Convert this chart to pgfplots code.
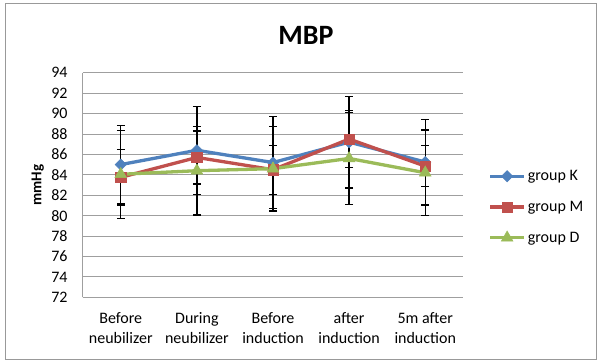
\documentclass[border=0pt]{standalone}
\usepackage{fontspec}
\setmainfont{Carlito}
\usepackage{pgfplots}
\usepackage{pgfplotstable}
\pgfplotsset{compat=1.18}
\definecolor{cK}{HTML}{4F81BD}
\definecolor{cM}{HTML}{C0504D}
\definecolor{cD}{HTML}{9BBB59}
\pgfplotstableread{
x y e
0 85.00 3.8
1 86.40 4.3
2 85.20 4.5
3 87.20 4.5
4 85.25 4.2
}\dataK
\pgfplotstableread{
x y e
0 83.75 2.7
1 85.70 2.6
2 84.50 2.4
3 87.50 2.8
4 84.85 2.0
}\dataM
\pgfplotstableread{
x y e
0 84.05 4.3
1 84.40 4.35
2 84.60 4.15
3 85.60 4.5
4 84.20 4.2
}\dataD
\pgfplotsset{
  eb/.style={error bars/.cd, y dir=both, y explicit,
    error bar style={black, line width=1.3pt, solid},
    error mark options={rotate=90, black, mark size=4pt, line width=1.3pt, solid}},
}
\begin{document}
\begin{tikzpicture}
\useasboundingbox (0pt,0pt) rectangle (600pt,362pt);
\fill[white] (0pt,0pt) rectangle (600pt,362pt);
\draw[gray!80, line width=0.9pt] (5.5pt,2.5pt) rectangle (596.5pt,358.5pt);
\node[font=\fontsize{28}{32}\selectfont\bfseries] at (306pt,327pt) {MBP};
\begin{axis}[
  at={(82.7pt,64.7pt)}, anchor=south west,
  width=380.6pt, height=224.6pt, scale only axis,
  xmin=-0.5, xmax=4.5, ymin=72, ymax=94,
  ytick={72,74,...,94},
  xtick={0,...,4},
  xticklabels={{Before\\neubilizer},{During\\neubilizer},{Before\\induction},{after\\induction},{5m after\\induction}},
  xticklabel style={align=center, font=\fontsize{16}{20}\selectfont, anchor=north, inner sep=0pt, yshift=-15pt},
  yticklabel style={font=\fontsize{16}{19}\selectfont, anchor=east, inner sep=0pt, xshift=-15pt},
  /pgf/number format/assume math mode=true,
  major tick length=0pt,
  axis lines*=left,
  axis line style={gray!75, line width=0.8pt, -},
  ymajorgrids, grid style={gray!75, line width=0.8pt},
  ylabel={\bfseries mmHg},
  every axis y label/.style={at={(axis description cs:-0.118,0.5)}, rotate=90, anchor=center, font=\fontsize{15}{18}\selectfont},
  legend style={at={(1,0.402)}, anchor=west, xshift=25pt, draw=none, fill=none,
    font=\fontsize{16}{19}\selectfont, row sep=15pt, inner sep=0pt, cells={anchor=west}},
  legend image code/.code={\draw[mark repeat=2,mark phase=2,#1] plot coordinates {(0pt,0pt) (17pt,0pt) (34pt,0pt)};},
]
\addplot[cK, line width=3.3pt, mark=square*, mark size=4pt, mark options={rotate=45, solid, line width=0.5pt}, eb] table[x=x,y=y,y error=e] {\dataK};
\addlegendentry{group K}
\addplot[cM, line width=3.3pt, mark=square*, mark size=5.2pt, mark options={solid, line width=0.5pt}, eb] table[x=x,y=y,y error=e] {\dataM};
\addlegendentry{group M}
\addplot[cD, line width=3.3pt, mark=triangle*, mark size=6.8pt, mark options={solid, line width=0.5pt}, eb] table[x=x,y=y,y error=e] {\dataD};
\addlegendentry{group D}
\end{axis}
\end{tikzpicture}
\end{document}
